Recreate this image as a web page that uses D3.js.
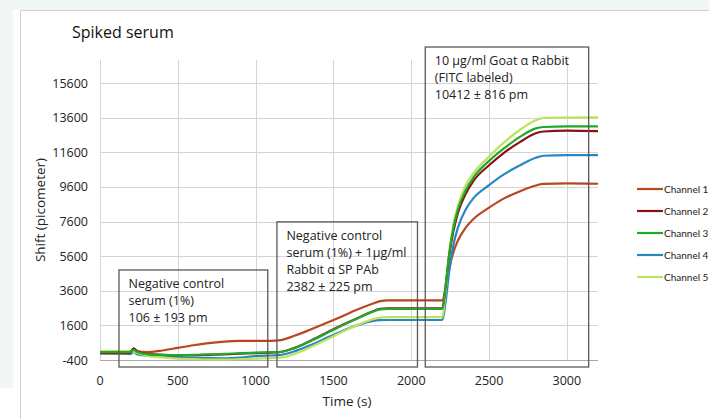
<!DOCTYPE html>
<html>
<head>
<meta charset="utf-8">
<script src="https://cdn.jsdelivr.net/npm/d3@7"></script>
<style>
  body { margin: 0; background: #fff; }
  svg { display: block; font-family: "Open Sans", sans-serif; }
</style>
</head>
<body>
<svg width="709" height="419"></svg>
<script>
// time grid (s) shared by all channels
var times = [0, 150, 195, 215, 240, 300, 400, 500, 600, 700, 800, 900, 1000, 1100, 1150,
  1250, 1350, 1450, 1550, 1650, 1750, 1800, 1850, 2000, 2200, 2220, 2245, 2270, 2300,
  2350, 2400, 2500, 2600, 2700, 2800, 2850, 3000, 3200];

// shift (pm) per channel
var ch1 = [0, 0, 20, 250, 120, 60, 150, 300, 450, 580, 660, 700, 710, 710, 730,
  1000, 1350, 1720, 2100, 2500, 2850, 3000, 3050, 3050, 3050, 3650, 4900, 5800, 6500,
  7250, 7750, 8400, 8950, 9350, 9680, 9770, 9800, 9780];
var ch2 = [0, 0, 30, 280, 100, -50, -100, -120, -120, -100, -80, -40, 0, 30, 50,
  300, 700, 1150, 1600, 2000, 2400, 2550, 2580, 2580, 2580, 3800, 5700, 7000, 8100,
  9200, 9950, 10850, 11600, 12200, 12700, 12800, 12850, 12820];
var ch3 = [50, 50, 60, 180, 60, -60, -100, -110, -100, -80, -50, 0, 30, 50, 60,
  280, 680, 1120, 1570, 1980, 2380, 2520, 2550, 2550, 2550, 3850, 5800, 7200, 8300,
  9400, 10150, 11100, 11850, 12500, 12980, 13060, 13100, 13100];
var ch4 = [0, -20, -60, 60, -80, -150, -200, -230, -260, -280, -300, -260, -180, -140, -120,
  100, 450, 850, 1250, 1600, 1850, 1900, 1910, 1910, 1910, 2900, 4800, 6200, 7250,
  8300, 8950, 9700, 10350, 10850, 11280, 11400, 11440, 11440];
var ch5 = [120, 120, 110, 80, 0, -150, -250, -320, -350, -370, -370, -350, -320, -290, -270,
  -50, 330, 750, 1200, 1600, 1950, 2050, 2080, 2080, 2080, 3500, 5900, 7400, 8500,
  9700, 10400, 11350, 12200, 12900, 13450, 13580, 13600, 13620];

var names = ["Channel 1", "Channel 2", "Channel 3", "Channel 4", "Channel 5"];
var colors = ["#b9461f", "#8a1212", "#22a82a", "#2786c4", "#bce35a"];
var yTicks = [-400, 1600, 3600, 5600, 7600, 9600, 11600, 13600, 15600];
var xTicks = [0, 500, 1000, 1500, 2000, 2500, 3000];

// annotation boxes in data units
var notes = [
  { t0: 122, t1: 1078, top: 4800, lines: ["Negative control", "serum (1%)", "106 \u00b1 193 pm"] },
  { t0: 1137, t1: 2040, top: 7580, lines: ["Negative control", "serum (1%) + 1\u00b5g/ml", "Rabbit \u03b1 SP PAb", "2382 \u00b1 225 pm"] },
  { t0: 2090, t1: 3140, top: 17680, lines: ["10 \u00b5g/ml Goat \u03b1 Rabbit", "(FITC labeled)", "10412 \u00b1 816 pm"] }
];

var svg = d3.select("svg");

// page frame
svg.append("rect").attr("x", 0).attr("y", 0).attr("width", 709).attr("height", 10).attr("fill", "#f1f7f7");
svg.append("rect").attr("x", 0).attr("y", 0).attr("width", 13).attr("height", 388).attr("fill", "#f1f7f7");
svg.append("path").attr("d", "M20.5,419V10.5H709").attr("fill", "none").attr("stroke", "#cfcfcf");

var x = d3.scaleLinear().domain([0, 3200]).range([100, 598]);
var y = d3.scaleLinear().domain([-400, 16930]).range([360, 60]);

// grid
svg.append("g").selectAll("line").data(yTicks).enter().append("line")
  .attr("x1", x(0)).attr("x2", x(3200))
  .attr("y1", function(d) { return Math.round(y(d)) + 0.5; })
  .attr("y2", function(d) { return Math.round(y(d)) + 0.5; })
  .attr("stroke", function(d) { return d == -400 ? "#a8a8a8" : "#d4d4d4"; });
svg.append("g").selectAll("line").data(xTicks).enter().append("line")
  .attr("y1", y(16930)).attr("y2", y(-400))
  .attr("x1", function(d) { return Math.round(x(d)) + 0.5; })
  .attr("x2", function(d) { return Math.round(x(d)) + 0.5; })
  .attr("stroke", "#d4d4d4");

// tick labels
svg.append("g").selectAll("text").data(yTicks).enter().append("text")
  .attr("x", 88).attr("y", function(d) { return y(d) + 4.5; })
  .attr("text-anchor", "end").attr("font-size", 12.5).attr("fill", "#222")
  .text(function(d) { return d; });
svg.append("g").selectAll("text").data(xTicks).enter().append("text")
  .attr("x", function(d) { return x(d); }).attr("y", 385)
  .attr("text-anchor", "middle").attr("font-size", 12.5).attr("fill", "#222")
  .text(function(d) { return d; });

// axis titles + title
svg.append("text").attr("x", 347).attr("y", 406).attr("text-anchor", "middle")
  .attr("font-size", 13.5).attr("fill", "#222").text("Time (s)");
svg.append("text").attr("transform", "translate(45,210) rotate(-90)").attr("text-anchor", "middle")
  .attr("font-size", 13.5).attr("fill", "#222").text("Shift (picometer)");
svg.append("text").attr("x", 72).attr("y", 38).attr("font-size", 16).attr("fill", "#111").text("Spiked serum");

// lines
var series = [ch1, ch2, ch3, ch4, ch5];
var line = d3.line()
  .x(function(d, i) { return x(times[i]); })
  .y(function(d) { return y(d); })
  .curve(d3.curveMonotoneX);
// draw channel 1 and 4 first so the upper ones sit on top like in the reference
var order = [0, 3, 4, 1, 2];
svg.append("g").selectAll("path").data(order).enter().append("path")
  .attr("d", function(k) { return line(series[k]); })
  .attr("fill", "none")
  .attr("stroke", function(k) { return colors[k]; })
  .attr("stroke-width", 2.2);

// annotation boxes
var g = svg.append("g").selectAll("g").data(notes).enter().append("g");
g.append("rect")
  .attr("x", function(d) { return x(d.t0); })
  .attr("y", function(d) { return y(d.top); })
  .attr("width", function(d) { return x(d.t1) - x(d.t0); })
  .attr("height", function(d) { return 367 - y(d.top); })
  .attr("fill", "none").attr("stroke", "#595959").attr("stroke-width", 1.3);
g.each(function(d) {
  var t = d3.select(this);
  d.lines.forEach(function(s, i) {
    t.append("text")
      .attr("x", x(d.t0) + 9.5)
      .attr("y", y(d.top) + 18 + i * 17)
      .attr("font-size", 12.5).attr("fill", "#222")
      .text(s);
  });
});

// legend
var leg = svg.append("g").selectAll("g").data(names).enter().append("g")
  .attr("transform", function(d, i) { return "translate(637," + (189 + i * 22) + ")"; });
leg.append("line").attr("x1", 0).attr("x2", 26).attr("y1", 0).attr("y2", 0)
  .attr("stroke", function(d, i) { return colors[i]; }).attr("stroke-width", 2.2);
leg.append("text").attr("x", 27).attr("y", 3.5).attr("font-size", 10)
  .attr("font-family", "Lato, sans-serif").attr("fill", "#222")
  .text(function(d) { return d; });
</script>
</body>
</html>
